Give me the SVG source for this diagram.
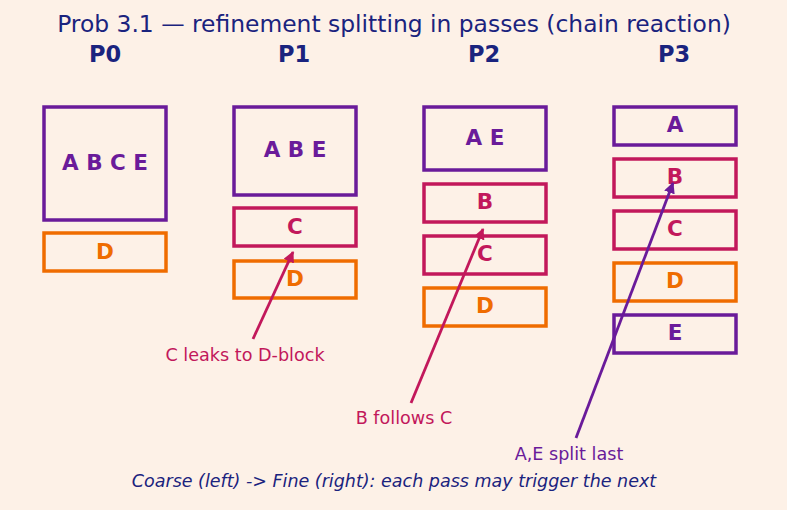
<svg xmlns="http://www.w3.org/2000/svg" width="787" height="510" viewBox="0 0 787 510">
<defs>
<style>
text{font-family:"DejaVu Sans","Liberation Sans",sans-serif}
.title{font-size:23.4px;fill:#1a237e;text-anchor:middle}
.ph{font-size:22.5px;font-weight:bold;fill:#1a237e;text-anchor:middle}
.lbl{font-size:21.5px;font-weight:bold;text-anchor:middle;dominant-baseline:central}
.box{fill:none;stroke-width:3.5}
.pu{stroke:#6a1b9a}.cr{stroke:#c2185b}.or{stroke:#ef6c00}
.tpu{fill:#6a1b9a}.tcr{fill:#c2185b}.tor{fill:#ef6c00}
.ann{font-size:17.6px;text-anchor:middle}
.foot{font-size:17.5px;font-style:italic;fill:#1a237e;text-anchor:middle}
</style>
<marker id="ahc" viewBox="0 0 10 10" refX="9" refY="5" markerWidth="4" markerHeight="4" orient="auto"><path d="M0,0 L10,5 L0,10 z" fill="#c2185b"/></marker>
<marker id="ahp" viewBox="0 0 10 10" refX="9" refY="5" markerWidth="4" markerHeight="4" orient="auto"><path d="M0,0 L10,5 L0,10 z" fill="#6a1b9a"/></marker>
</defs>
<rect width="787" height="510" fill="#fdf1e7"/>
<text class="title" x="394" y="32">Prob 3.1 — refinement splitting in passes (chain reaction)</text>
<text class="ph" x="105" y="62">P0</text>
<text class="ph" x="294" y="62">P1</text>
<text class="ph" x="484" y="62">P2</text>
<text class="ph" x="674" y="62">P3</text>
<g id="p0-ABCE"><rect class="box pu" x="44" y="107" width="122" height="113"/><text class="lbl tpu" x="105" y="162">A B C E</text></g>
<g id="p0-D"><rect class="box or" x="44" y="233" width="122" height="38"/><text class="lbl tor" x="105" y="251">D</text></g>
<g id="p1-ABE"><rect class="box pu" x="234" y="107" width="122" height="88"/><text class="lbl tpu" x="295" y="149.5">A B E</text></g>
<g id="p1-C"><rect class="box cr" x="234" y="208" width="122" height="38"/><text class="lbl tcr" x="295" y="226">C</text></g>
<g id="p1-D"><rect class="box or" x="234" y="261" width="122" height="37"/><text class="lbl tor" x="295" y="278.5">D</text></g>
<g id="p2-AE"><rect class="box pu" x="424" y="107" width="122" height="63"/><text class="lbl tpu" x="485" y="137">A E</text></g>
<g id="p2-B"><rect class="box cr" x="424" y="184" width="122" height="38"/><text class="lbl tcr" x="485" y="201.5">B</text></g>
<g id="p2-C"><rect class="box cr" x="424" y="236" width="122" height="38"/><text class="lbl tcr" x="485" y="253.5">C</text></g>
<g id="p2-D"><rect class="box or" x="424" y="288" width="122" height="38"/><text class="lbl tor" x="485" y="305.5">D</text></g>
<g id="p3-A"><rect class="box pu" x="614" y="107" width="122" height="38"/><text class="lbl tpu" x="675" y="124.5">A</text></g>
<g id="p3-B"><rect class="box cr" x="614" y="159" width="122" height="38"/><text class="lbl tcr" x="675" y="176.5">B</text></g>
<g id="p3-C"><rect class="box cr" x="614" y="211" width="122" height="38"/><text class="lbl tcr" x="675" y="228.5">C</text></g>
<g id="p3-D"><rect class="box or" x="614" y="263" width="122" height="38"/><text class="lbl tor" x="675" y="280.5">D</text></g>
<g id="p3-E"><rect class="box pu" x="614" y="315" width="122" height="38"/><text class="lbl tpu" x="675" y="332.5">E</text></g>
<g id="connectors" stroke-width="2.8" fill="none">
<line x1="253" y1="339" x2="293" y2="252" stroke="#c2185b" marker-end="url(#ahc)"/>
<line x1="411" y1="403" x2="483" y2="229" stroke="#c2185b" marker-end="url(#ahc)"/>
<line x1="576" y1="438" x2="673" y2="183" stroke="#6a1b9a" marker-end="url(#ahp)"/>
</g>
<text class="ann tcr" x="245" y="361">C leaks to D-block</text>
<text class="ann tcr" x="404" y="424">B follows C</text>
<text class="ann tpu" x="569" y="460">A,E split last</text>
<text class="foot" x="394" y="487">Coarse (left) -&gt; Fine (right): each pass may trigger the next</text>
</svg>
